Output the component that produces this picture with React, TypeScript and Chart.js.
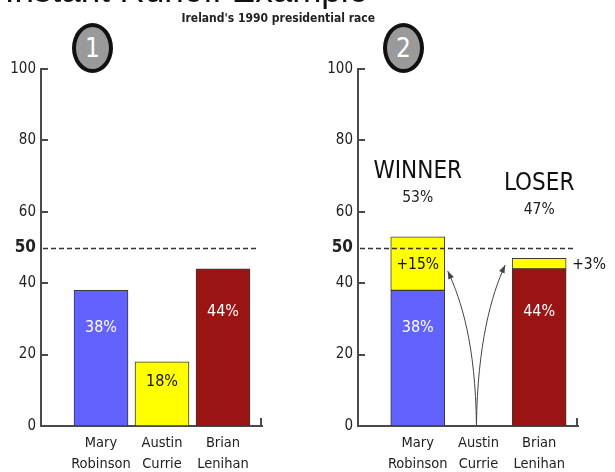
import React, { useEffect, useRef } from "react";
import { Chart, registerables } from "chart.js";

Chart.register(...registerables);

// ---- data ----
const candidateNames = [["Mary", "Robinson"], ["Austin", "Currie"], ["Brian", "Lenihan"]];
const firstRound = [38, 18, 44];
const finalRoundBase = [38, 0, 44];
const transferredVotes = [15, 0, 3];
const yTickValues = [0, 20, 40, 50, 60, 80, 100];
const majorityLine = 50;
const eliminatedIndex = 1;
const barColors = ["#6262ff", "#ffff00", "#9a1414"];
const labelColors = ["#ffffff", "#111111", "#ffffff"];
const transferColor = "#ffff00";
const resultWords = ["WINNER", "LOSER"];

const NARROW = "'Liberation Sans Narrow', 'DejaVu Sans Condensed', 'Arial Narrow', sans-serif";
const SANS = "'Liberation Sans', Arial, sans-serif";

function buildScales() {
  return {
    x: {
      type: "linear",
      min: 1 - 60 / 61,
      max: 3 + 39 / 61,
      offset: false,
      stacked: true,
      grid: { display: false, drawTicks: false, offset: false },
      border: { display: true, color: "#4a4a4a", width: 2 },
      afterBuildTicks: (s: any) => {
        s.ticks = candidateNames.map((_, i) => ({ value: i + 1 }));
      },
      afterFit: (s: any) => {
        s.height = 46;
      },
      ticks: {
        autoSkip: false,
        maxRotation: 0,
        padding: 7,
        color: "#222",
        font: { family: NARROW, size: 14.5, lineHeight: 1.45 },
        callback: (v: any) => candidateNames[Math.round(v) - 1] ?? "",
      },
    },
    y: {
      min: 0,
      max: 100,
      stacked: true,
      grid: { display: false, drawTicks: false },
      border: { display: true, color: "#4a4a4a", width: 2 },
      afterBuildTicks: (s: any) => {
        s.ticks = yTickValues.map((v) => ({ value: v }));
      },
      afterFit: (s: any) => {
        s.width = 41;
      },
      ticks: {
        padding: 5,
        color: "#222",
        font: (ctx: any) =>
          ctx.tick && ctx.tick.value === majorityLine
            ? { family: NARROW, size: 17, weight: "bold" }
            : { family: NARROW, size: 15 },
      },
    },
  };
}

const decorPlugin = {
  id: "decor",
  afterDatasetsDraw(chart: any) {
    const { ctx, chartArea: a, scales } = chart;
    const y = scales.y;
    ctx.save();
    ctx.strokeStyle = "#4a4a4a";
    ctx.lineWidth = 2;
    yTickValues.forEach((v) => {
      if (v === 0 || v === majorityLine) return;
      const py = Math.round(y.getPixelForValue(v));
      ctx.beginPath();
      ctx.moveTo(a.left, py);
      ctx.lineTo(a.left + 7, py);
      ctx.stroke();
    });
    ctx.beginPath();
    ctx.moveTo(a.right - 1, a.bottom);
    ctx.lineTo(a.right - 1, a.bottom - 8);
    ctx.stroke();
    // majority dashed line
    const my = Math.round(y.getPixelForValue(majorityLine)) + 0.5;
    ctx.setLineDash([5, 3]);
    ctx.lineWidth = 1.5;
    ctx.strokeStyle = "#333";
    ctx.beginPath();
    ctx.moveTo(a.left + 2, my);
    ctx.lineTo(a.right - 3, my);
    ctx.stroke();
    ctx.restore();
  },
};

function drawText(ctx: any, text: string, x: number, y: number, size: number, color: string, align = "center") {
  ctx.font = `${size}px ${NARROW}`;
  ctx.fillStyle = color;
  ctx.textAlign = align;
  ctx.textBaseline = "middle";
  ctx.fillText(text, x, y);
}

const firstRoundLabels = {
  id: "firstRoundLabels",
  afterDatasetsDraw(chart: any) {
    const { ctx, scales } = chart;
    const meta = chart.getDatasetMeta(0);
    ctx.save();
    meta.data.forEach((bar: any, i: number) => {
      const v = firstRound[i];
      const py = scales.y.getPixelForValue(v * 0.75 - 1);
      drawText(ctx, `${v}%`, bar.x, py, 16, labelColors[i]);
    });
    ctx.restore();
  },
};

const finalRoundLabels = {
  id: "finalRoundLabels",
  afterDatasetsDraw(chart: any) {
    const { ctx, scales } = chart;
    const x = scales.x;
    const y = scales.y;
    const baseMeta = chart.getDatasetMeta(0);
    const addMeta = chart.getDatasetMeta(1);
    ctx.save();
    finalRoundBase.forEach((v, i) => {
      if (!v) return;
      const bar: any = baseMeta.data[i];
      drawText(ctx, `${v}%`, bar.x, y.getPixelForValue(v * 0.75 - 1), 16, labelColors[i]);
      const t = transferredVotes[i];
      const total = v + t;
      const seg: any = addMeta.data[i];
      const segTop = y.getPixelForValue(total);
      const segBot = y.getPixelForValue(v);
      if (segBot - segTop >= 24) {
        drawText(ctx, `+${t}%`, seg.x, (segTop + segBot) / 2 + 1, 15.5, "#111");
      } else {
        drawText(ctx, `+${t}%`, seg.x + seg.width / 2 + 6, (segTop + segBot) / 2 + 1, 15.5, "#111", "left");
      }
      const won = total > majorityLine;
      const word = won ? resultWords[0] : resultWords[1];
      const off = won ? 18.2 : 20.8;
      drawText(ctx, word, bar.x, y.getPixelForValue(total + off), 24, "#111");
      drawText(ctx, `${total}%`, bar.x, y.getPixelForValue(total + off - 7.3), 15.5, "#222");

      // arrow from eliminated candidate
      const xA = x.getPixelForValue(eliminatedIndex + 1) - 2;
      const yA = y.getPixelForValue(0) - 1;
      const side = i < eliminatedIndex ? -1 : 1;
      const tipX = side < 0 ? bar.x + bar.width / 2 + 3 : bar.x - bar.width / 2 - 7;
      const tipY = y.getPixelForValue(v + t * 0.36);
      const c1x = xA + side * 1;
      const c1y = yA - 80;
      const c2x = tipX - side * 14;
      const c2y = tipY + 30;
      ctx.strokeStyle = "#444";
      ctx.fillStyle = "#444";
      ctx.lineWidth = 1;
      ctx.beginPath();
      ctx.moveTo(xA, yA);
      ctx.bezierCurveTo(c1x, c1y, c2x, c2y, tipX, tipY);
      ctx.stroke();
      const ang = Math.atan2(tipY - c2y, tipX - c2x);
      const L = 8;
      const W = 3;
      ctx.beginPath();
      ctx.moveTo(tipX, tipY);
      ctx.lineTo(tipX - L * Math.cos(ang) + W * Math.sin(ang), tipY - L * Math.sin(ang) - W * Math.cos(ang));
      ctx.lineTo(tipX - L * Math.cos(ang) - W * Math.sin(ang), tipY - L * Math.sin(ang) + W * Math.cos(ang));
      ctx.closePath();
      ctx.fill();
    });
    ctx.restore();
  },
};

function baseOptions(padRight: number) {
  return {
    responsive: false,
    animation: false,
    devicePixelRatio: 1,
    layout: { padding: { top: 69, right: padRight, left: 0, bottom: 0 } },
    plugins: { legend: { display: false }, tooltip: { enabled: false }, title: { display: false } },
    scales: buildScales(),
  };
}

function Circle({ n, left }: { n: number; left: number }) {
  return (
    <div
      style={{
        position: "absolute",
        left,
        top: 23,
        width: 41,
        height: 50,
        boxSizing: "border-box",
        border: "4px solid #111",
        borderRadius: "50%",
        background: "#9a9a9a",
        color: "#fff",
        fontFamily: NARROW,
        fontSize: 26,
        lineHeight: "42px",
        textAlign: "center",
      }}
    >
      {n}
    </div>
  );
}

export default function App() {
  const leftRef = useRef<HTMLCanvasElement>(null);
  const rightRef = useRef<HTMLCanvasElement>(null);

  useEffect(() => {
    const left = new Chart(leftRef.current as any, {
      type: "bar",
      data: {
        datasets: [
          {
            data: firstRound.map((v, i) => ({ x: i + 1, y: v })),
            backgroundColor: barColors,
            borderColor: "#3a3a3a",
            borderWidth: 1,
            borderSkipped: false,
            barThickness: 54,
          },
        ],
      },
      options: baseOptions(45) as any,
      plugins: [decorPlugin, firstRoundLabels],
    });
    const right = new Chart(rightRef.current as any, {
      type: "bar",
      data: {
        datasets: [
          {
            data: finalRoundBase.map((v, i) => ({ x: i + 1, y: v || null })),
            backgroundColor: barColors,
            borderColor: "#3a3a3a",
            borderWidth: 1,
            borderSkipped: false,
            barThickness: 54,
          },
          {
            data: transferredVotes.map((v, i) => ({ x: i + 1, y: v || null })),
            backgroundColor: transferColor,
            borderColor: "#3a3a3a",
            borderWidth: 1,
            borderSkipped: false,
            barThickness: 54,
          },
        ],
      },
      options: baseOptions(37) as any,
      plugins: [decorPlugin, finalRoundLabels],
    });
    return () => {
      left.destroy();
      right.destroy();
    };
  }, []);

  return (
    <div
      style={{
        position: "fixed",
        left: 0,
        top: 0,
        width: 615,
        height: 472,
        overflow: "hidden",
        background: "#fff",
      }}
    >
      <canvas ref={leftRef} width={307} height={472} style={{ position: "absolute", left: 0, top: 0 }} />
      <canvas ref={rightRef} width={298} height={472} style={{ position: "absolute", left: 317, top: 0 }} />
      <div
        style={{
          position: "absolute",
          right: 615 - 368,
          top: -28,
          fontFamily: SANS,
          fontSize: 35,
          lineHeight: "35px",
          color: "#111",
          whiteSpace: "nowrap",
        }}
      >
        Instant Runoff Example
      </div>
      <div
        style={{
          position: "absolute",
          right: 615 - 375,
          top: 11,
          fontFamily: NARROW,
          fontWeight: "bold",
          fontSize: 12,
          lineHeight: "14px",
          color: "#222",
          whiteSpace: "nowrap",
        }}
      >
        Ireland's 1990 presidential race
      </div>
      <Circle n={1} left={72} />
      <Circle n={2} left={383} />
    </div>
  );
}
